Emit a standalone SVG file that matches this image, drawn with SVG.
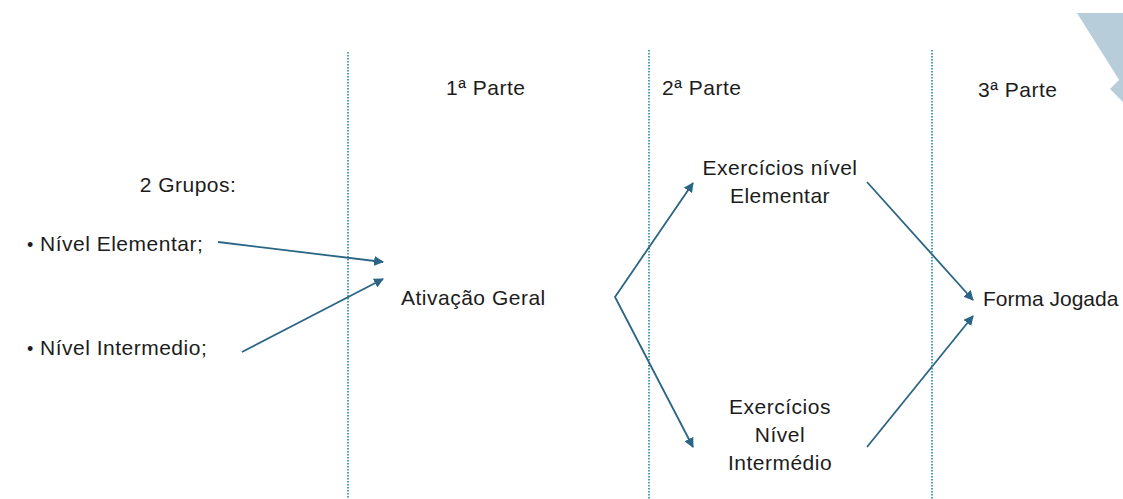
<svg xmlns="http://www.w3.org/2000/svg" width="1123" height="499" viewBox="0 0 1123 499">
<style>
text{font-family:"Liberation Sans",Arial,sans-serif;font-size:21px;letter-spacing:0.5px;fill:#1c1c1c}
.c{text-anchor:middle}
.div{stroke:#4b9fb3;stroke-width:2;stroke-dasharray:1.5 1.5;fill:none}
.arr{stroke:#2a6585;stroke-width:1.8;fill:none;marker-end:url(#ah)}
</style>
<defs>
<marker id="ah" viewBox="0 0 10 10" refX="9" refY="5" markerWidth="5.5" markerHeight="5.5" orient="auto-start-reverse" markerUnits="strokeWidth">
<path d="M0,0 L10,5 L0,10 z" fill="#2a6585"/>
</marker>
</defs>
<rect width="1123" height="499" fill="#ffffff"/>
<g id="decoration">
<polygon points="1077,13 1123,13 1123,86" fill="#b7cdd9"/>
<polygon points="1110,89 1123,76 1123,102" fill="#b7cdd9"/>
</g>
<g id="dividers">
<line class="div" x1="348" y1="52" x2="348" y2="499"/>
<line class="div" x1="649" y1="50" x2="649" y2="499"/>
<line class="div" x1="932" y1="50" x2="932" y2="499"/>
</g>
<g id="headers">
<text x="446" y="95">1ª Parte</text>
<text x="662" y="95">2ª Parte</text>
<text x="978" y="97">3ª Parte</text>
</g>
<g id="groups">
<text class="c" x="188" y="192">2 Grupos:</text>
<text x="27" y="251" style="font-size:18px">•</text>
<text x="40" y="251">Nível Elementar;</text>
<text x="27" y="355" style="font-size:18px">•</text>
<text x="40" y="355">Nível Intermedio;</text>
</g>
<g id="ativacao"><text x="401" y="305">Ativação Geral</text></g>
<g id="ex-elementar">
<text class="c" x="780" y="175">Exercícios nível</text>
<text class="c" x="780" y="203">Elementar</text>
</g>
<g id="ex-intermedio">
<text class="c" x="780" y="414">Exercícios</text>
<text class="c" x="780" y="442">Nível</text>
<text class="c" x="780" y="470">Intermédio</text>
</g>
<g id="forma-jogada"><text x="983" y="306" style="letter-spacing:0">Forma Jogada</text></g>
<g id="connectors">
<line class="arr" x1="218" y1="242" x2="383" y2="262"/>
<line class="arr" x1="242" y1="352" x2="383" y2="279"/>
<path class="arr" d="M693,183 L615,297 L693,447" style="marker-start:url(#ah)"/>
<line class="arr" x1="867" y1="182" x2="973" y2="300"/>
<line class="arr" x1="867" y1="447" x2="973" y2="316"/>
</g>
</svg>
